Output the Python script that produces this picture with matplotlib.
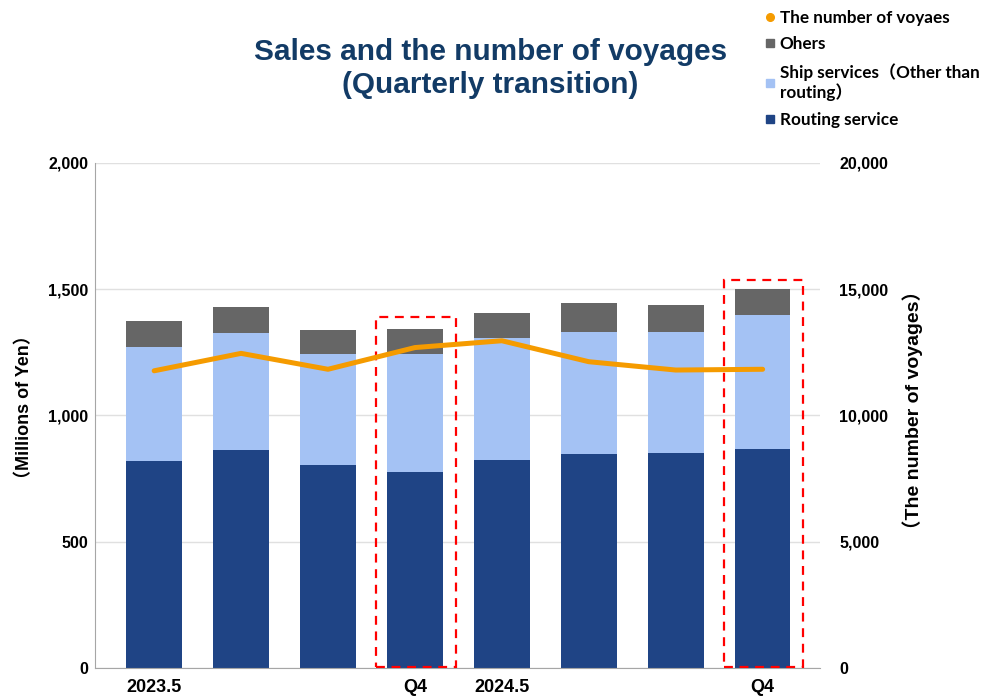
import numpy as np
import matplotlib.pyplot as plt
from matplotlib.lines import Line2D
from matplotlib.patches import Rectangle

# --- data ---
quarters = ["2023.5", "", "", "Q4", "2024.5", "", "", "Q4"]
routing = [818, 863, 804, 778, 822, 848, 852, 869]
ship_services = [452, 463, 439, 465, 485, 484, 480, 529]
others = [105, 104, 95, 101, 99, 115, 107, 103]
voyages = [11770, 12460, 11830, 12690, 12960, 12130, 11800, 11830]
highlighted = [3, 7]

c_routing = "#1F4485"
c_ship = "#A4C2F4"
c_others = "#666666"
c_line = "#F59B00"
c_title = "#123B66"

fig = plt.figure(figsize=(9.87, 6.98), dpi=100)
ax = fig.add_axes([0.0963, 0.043, 0.7345, 0.7235])
ax2 = ax.twinx()

x = np.arange(len(quarters))
w = 0.64
routing = np.array(routing)
ship_services = np.array(ship_services)
others = np.array(others)

ax.bar(x, routing, w, color=c_routing, zorder=2)
ax.bar(x, ship_services, w, bottom=routing, color=c_ship, zorder=2)
ax.bar(x, others, w, bottom=routing + ship_services, color=c_others, zorder=2)

ax2.plot(x, voyages, color=c_line, lw=3.6, solid_capstyle="round", zorder=3)

# red dashed boxes around the Q4 bars
totals = routing + ship_services + others
for i in highlighted:
    top = totals[i] + (45 if i == 3 else 35)
    ax.add_patch(Rectangle((i - 0.45, 5), 0.92, top - 5, fill=False,
                           edgecolor="#FF0000", lw=1.6, ls=(0, (4, 3)), zorder=4))

ax.set_xlim(-0.68, 7.66)
ax.set_ylim(0, 2000)
ax2.set_ylim(0, 20000)
ax.set_yticks(np.arange(0, 2001, 500))
ax2.set_yticks(np.arange(0, 20001, 5000))
ax.yaxis.set_major_formatter(plt.FuncFormatter(lambda v, p: f"{int(v):,}"))
ax2.yaxis.set_major_formatter(plt.FuncFormatter(lambda v, p: f"{int(v):,}"))
ax.grid(axis="y", color="#E0E0E0", lw=1, zorder=0)
ax.set_axisbelow(True)

ax.set_xticks(x)
ax.set_xticklabels(quarters, fontsize=13, fontweight="bold", family="Liberation Sans")
ax.tick_params(axis="x", length=0, pad=8)
ax.tick_params(axis="y", length=0, pad=5)
ax2.tick_params(axis="y", length=0, pad=14)
for lab in ax.get_yticklabels() + ax2.get_yticklabels():
    lab.set_fontsize(11.5)
    lab.set_fontweight("bold")
    lab.set_family("Liberation Sans")

for s in ["top", "right"]:
    ax.spines[s].set_visible(False)
for s in ["top", "right", "left", "bottom"]:
    ax2.spines[s].set_visible(False)
ax.spines["left"].set_color("#A6A6A6")
ax.spines["bottom"].set_color("#A6A6A6")

ax.set_ylabel("（Millions of Yen）", fontsize=13, fontweight="bold",
              family=["Liberation Sans", "Noto Sans CJK JP"])
ax.yaxis.set_label_coords(-0.086, 0.517)
ax2.set_ylabel("（The number of voyages）", fontsize=14, fontweight="bold",
               family=["Liberation Sans", "Noto Sans CJK JP"], rotation=90)
ax2.yaxis.set_label_coords(1.113, 0.51)

fig.text(0.497, 0.902, "Sales and the number of voyages\n(Quarterly transition)", ha="center", va="center",
         fontsize=21.4, fontweight="bold", color=c_title, family="Liberation Sans", linespacing=1.25)

handles = [
    Line2D([], [], marker="o", ls="", color=c_line, markersize=5.5),
    Line2D([], [], marker="s", ls="", color=c_others, markersize=5.5),
    Line2D([], [], marker="s", ls="", color=c_ship, markersize=5.5),
    Line2D([], [], marker="s", ls="", color=c_routing, markersize=5.5),
]
labels = ["The number of voyaes", "Ohers", "Ship services（Other than\nrouting）", "Routing service"]
leg = fig.legend(handles, labels, loc="upper left", bbox_to_anchor=(0.777, 0.986), frameon=False,
                 borderpad=0, borderaxespad=0,
                 handlelength=0.4, handletextpad=0.35, labelspacing=0.62,
                 prop={"family": ["Lato", "Noto Sans CJK JP"], "weight": "bold", "size": 12.3})

fig.savefig("out.png", dpi=100)
